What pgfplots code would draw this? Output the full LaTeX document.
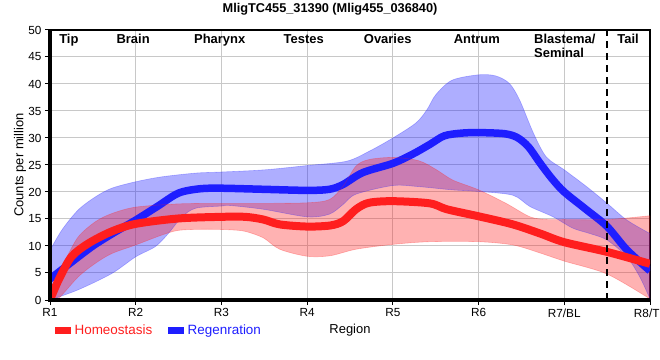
\documentclass[border=0pt]{standalone}
\usepackage{pgfplots}
\pgfplotsset{compat=1.18}
\usepgfplotslibrary{fillbetween}
\usepackage{fontspec}
\setmainfont{Liberation Sans}
\definecolor{hcol}{RGB}{255,30,30}
\definecolor{rcol}{RGB}{30,30,255}
\definecolor{gridc}{RGB}{200,200,200}
\begin{document}
\begin{tikzpicture}
\begin{axis}[
 name=ax,
 scale only axis, width=600bp, height=270bp,
 xmin=0, xmax=7, ymin=0, ymax=50,
 xtick={0,1,2,3,4,5,6,7}, xticklabels={R1,R2,R3,R4,R5,R6,R7/BL,R8/TL},
 ytick={0,5,...,50},
 grid=major, grid style={gridc, line width=1bp},
 axis line style={black, line width=1.3bp},
 tick align=outside, xtick pos=bottom, ytick pos=left,
 major tick length=5bp, tick style={black, line width=1bp},
 ticklabel style={font=\fontsize{11.8}{14}\selectfont},
 /pgf/number format/assume math mode=true,
 xlabel={Region}, ylabel={Counts per million},
 xlabel style={at={(axis description cs:0.5,-0.111)}, anchor=center, font=\fontsize{13}{15}\selectfont},
 ylabel style={at={(axis description cs:-0.05,0.5)}, anchor=center, font=\fontsize{13}{15}\selectfont},
 title={MligTC455\_31390 (Mlig455\_036840)},
 title style={at={(axis description cs:0.4667,1)}, anchor=center, yshift=15bp, font=\bfseries\fontsize{12.8}{15}\selectfont},
 legend columns=2,
 legend style={at={(axis description cs:0.0083,-0.111)}, anchor=west, draw=none, fill=none, inner sep=0pt, font=\fontsize{13.5}{15}\selectfont, /tikz/every even column/.append style={column sep=14bp}, /tikz/every odd column/.append style={column sep=2bp}},
 legend cell align=left,
]
\addlegendimage{legend image code/.code={\fill[hcol] (0bp,-3bp) rectangle (15bp,3bp);}}
\addlegendentry{\textcolor{hcol}{Homeostasis}}
\addlegendimage{legend image code/.code={\fill[rcol] (0bp,-3bp) rectangle (15bp,3bp);}}
\addlegendentry{\textcolor{rcol}{Regenration}}

% Regeneration band
\addplot[name path=ru, draw=rcol, draw opacity=0.3, line width=0.6bp, smooth, forget plot] coordinates {
(0,9.2) (0.14,13) (0.33,16.7) (0.53,19.1) (0.72,20.7) (1,21.9) (1.3,22.8) (1.7,23.5) (2,23.7) (2.5,24.1) (3,24.9) (3.46,25.7) (3.73,27.6) (4,30.0) (4.27,32.8) (4.4,35.3) (4.5,38.0) (4.69,40.7) (5,41.7) (5.2,41.5) (5.36,40.1) (5.48,37.0) (5.64,30.9) (5.79,26.5) (6,24.1) (6.26,21.0) (6.5,17.9) (6.73,14.8) (7,12.3)};
\addplot[name path=rl, draw=rcol, draw opacity=0.3, line width=0.6bp, smooth, forget plot] coordinates {
(0,0) (0.33,1.9) (0.72,4.9) (1,8.0) (1.23,9.9) (1.38,12.3) (1.54,15.4) (1.7,17.0) (2,17.4) (2.1,17.5) (2.49,16.8) (3,15.4) (3.26,15.9) (3.42,17.7) (3.57,19.6) (4,21.2) (4.3,21.0) (4.69,20.4) (5,20.1) (5.4,19.4) (5.6,17.3) (5.87,15.4) (6.1,13.3) (6.3,12.3) (6.5,11.1) (6.73,8.0) (6.88,4.3) (7,0.2)};
\addplot[fill=rcol, fill opacity=0.36, draw=none, forget plot] fill between[of=ru and rl];
% Regeneration mean
\addplot[rcol, line width=7.5bp, smooth, forget plot] coordinates {
(0,3.9) (0.25,7.0) (0.5,10.0) (0.75,12.5) (1,14.8) (1.25,17.3) (1.5,19.8) (1.75,20.6) (2,20.7) (2.49,20.5) (3,20.3) (3.26,20.5) (3.42,21.4) (3.65,23.6) (4,25.3) (4.23,27.0) (4.43,28.8) (4.6,30.4) (4.8,30.9) (5,31.0) (5.3,30.8) (5.45,30.1) (5.58,28.4) (5.72,25.3) (5.86,22.4) (6,20.0) (6.26,16.7) (6.5,13.6) (6.73,9.3) (7,5.4)};

% Homeostasis band
\addplot[name path=hu, draw=hcol, draw opacity=0.3, line width=0.6bp, smooth, forget plot] coordinates {
(0,0.3) (0.1,4.5) (0.18,7.4) (0.33,11.7) (0.53,14.5) (0.72,16.0) (1,17.2) (1.5,17.8) (2,17.9) (2.5,17.9) (3,18.0) (3.26,18.6) (3.42,21.1) (3.57,24.8) (3.72,26.0) (4,26.4) (4.3,25.8) (4.5,24.2) (4.7,22.2) (5,20.4) (5.32,17.9) (5.6,15.4) (5.8,14.9) (6,14.9) (6.5,14.9) (7,15.6)};
\addplot[name path=hl, draw=hcol, draw opacity=0.3, line width=0.6bp, smooth, forget plot] coordinates {
(0,0) (0.1,0.3) (0.33,4.3) (0.53,6.8) (0.72,8.6) (1,10.2) (1.3,12.0) (1.5,12.9) (1.8,13.1) (2.1,13.0) (2.28,12.7) (2.49,11.5) (2.68,9.4) (3,8.1) (3.27,8.2) (3.57,9.4) (4,10.3) (4.43,10.8) (5,10.8) (5.4,10.2) (5.7,8.8) (6,7.2) (6.5,4.8) (7,0.2)};
\addplot[fill=hcol, fill opacity=0.34, draw=none, forget plot] fill between[of=hu and hl];
% Homeostasis mean
\addplot[hcol, line width=8bp, smooth, forget plot] coordinates {
(0,0) (0.1,3.7) (0.25,8.0) (0.45,10.5) (0.72,12.7) (1,14.1) (1.5,15.1) (2,15.4) (2.28,15.4) (2.49,14.9) (2.68,14.0) (3,13.6) (3.27,13.8) (3.42,14.6) (3.57,16.8) (3.72,18.0) (4,18.3) (4.43,17.9) (4.63,16.8) (5,15.5) (5.4,14.0) (5.72,12.3) (6,10.7) (6.5,8.9) (7,6.7)};

% Tail boundary
\addplot[black, line width=2.5bp, dash pattern=on 7bp off 5bp, forget plot] coordinates {(6.5,0) (6.5,50)};

% Region names
\node[anchor=north, inner sep=0pt, yshift=-4bp, font=\bfseries\fontsize{13}{14}\selectfont] at (axis cs:0.22,50) {Tip};
\node[anchor=north, inner sep=0pt, yshift=-4bp, font=\bfseries\fontsize{13}{14}\selectfont] at (axis cs:0.97,50) {Brain};
\node[anchor=north, inner sep=0pt, yshift=-4bp, font=\bfseries\fontsize{13}{14}\selectfont] at (axis cs:1.98,50) {Pharynx};
\node[anchor=north, inner sep=0pt, yshift=-4bp, font=\bfseries\fontsize{13}{14}\selectfont] at (axis cs:2.96,50) {Testes};
\node[anchor=north, inner sep=0pt, yshift=-4bp, font=\bfseries\fontsize{13}{14}\selectfont] at (axis cs:3.94,50) {Ovaries};
\node[anchor=north, inner sep=0pt, yshift=-4bp, font=\bfseries\fontsize{13}{14}\selectfont] at (axis cs:4.98,50) {Antrum};
\node[anchor=north west, align=left, inner sep=0pt, yshift=-4bp, font=\bfseries\fontsize{13}{13.6}\selectfont] at (axis cs:5.647,50) {Blastema/\\Seminal};
\node[anchor=north, inner sep=0pt, yshift=-4bp, font=\bfseries\fontsize{13}{14}\selectfont] at (axis cs:6.744,50) {Tail};
\end{axis}
\draw[black, line width=3bp] (ax.north west) -- (ax.south west) -- (ax.south east);
\pgfresetboundingbox
\path[use as bounding box] ([shift={(-50bp,-60bp)}]ax.south west) rectangle ([shift={(10bp,30bp)}]ax.north east);
\end{tikzpicture}
\end{document}
